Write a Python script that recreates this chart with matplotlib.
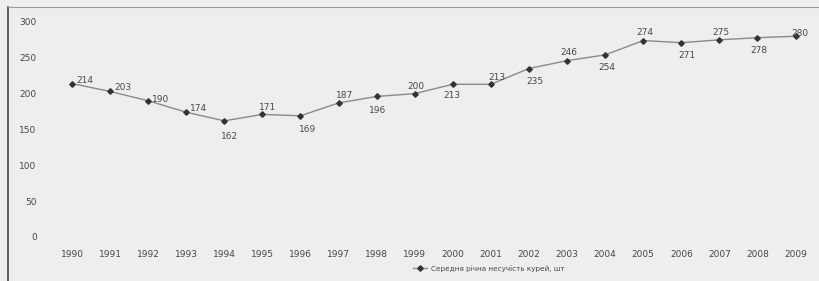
import matplotlib.pyplot as plt
from matplotlib.lines import Line2D

# data
years = list(range(1990, 2010))
egg_yield = [214, 203, 190, 174, 162, 171, 169, 187, 196, 200,
             213, 213, 235, 246, 254, 274, 271, 275, 278, 280]
series_name = "Середня річна несучість курей, шт"

# label offsets in points (dx, dy)
label_offsets = [(9, 2), (9, 3), (9, 1), (9, 3), (4, -11), (4, 5), (5, -10), (4, 5),
                 (1, -10), (1, 5), (-1, -8), (4, 5), (4, -9), (1, 6), (1, -9), (1, 6),
                 (4, -9), (1, 5), (1, -9), (3, 2)]

bg = "#eeeeec"
txt = "#474747"

fig = plt.figure(figsize=(8.19, 2.81), dpi=100, facecolor=bg)
ax = fig.add_axes([0.06, 0.146, 0.93, 0.801], facecolor=bg)

ax.plot(years, egg_yield, color="#8a8a8a", linewidth=1.0, marker="D",
        markersize=2.8, markerfacecolor="#333333", markeredgecolor="#333333",
        label=series_name)

for x, y, (dx, dy) in zip(years, egg_yield, label_offsets):
    ax.annotate(str(y), (x, y), xytext=(dx, dy), textcoords="offset points",
                ha="center", va="center", fontsize=6.5, color=txt)

ax.set_xlim(1989.4, 2009.4)
ax.set_ylim(-4.2, 309.8)
ax.set_xticks(years)
ax.set_yticks(range(0, 301, 50))
ax.tick_params(length=0, labelsize=6.5, labelcolor=txt)
ax.tick_params(axis="y", pad=9)
ax.tick_params(axis="x", pad=7)
for s in ax.spines.values():
    s.set_visible(False)

fig.legend(loc="center", bbox_to_anchor=(0.597, 0.045), frameon=False,
           fontsize=5.2, labelcolor=txt, handlelength=2.0, handletextpad=0.5)

# scan border
fig.add_artist(Line2D([0.010, 0.010], [0, 0.975], transform=fig.transFigure,
                      color="#444444", linewidth=1.2))
fig.add_artist(Line2D([0.010, 1.0], [0.975, 0.975], transform=fig.transFigure,
                      color="#999999", linewidth=0.8))

fig.savefig("out.png", dpi=100, facecolor=bg)
